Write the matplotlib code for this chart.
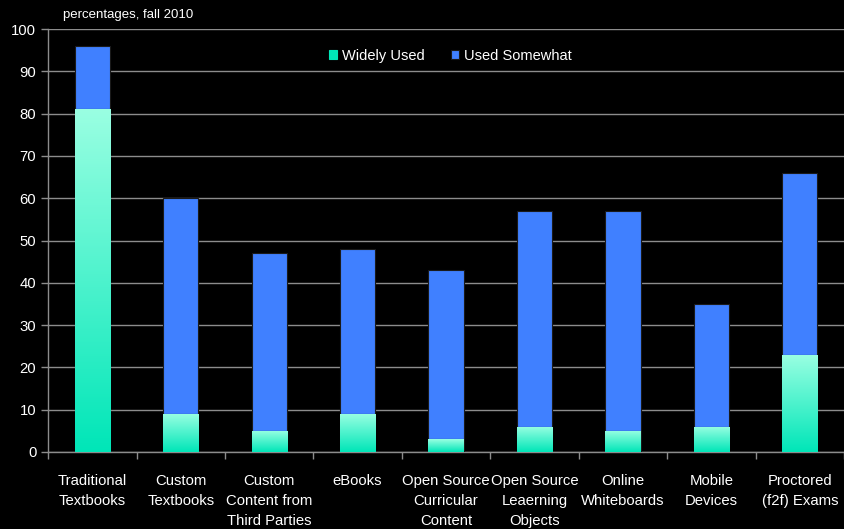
import numpy as np
import matplotlib.pyplot as plt
from matplotlib.colors import LinearSegmentedColormap

categories = [
    "Traditional\nTextbooks",
    "Custom\nTextbooks",
    "Custom\nContent from\nThird Parties",
    "eBooks",
    "Open Source\nCurricular\nContent",
    "Open Source\nLeaerning\nObjects",
    "Online\nWhiteboards",
    "Mobile\nDevices",
    "Proctored\n(f2f) Exams",
]
widely_used = [81, 9, 5, 9, 3, 6, 5, 6, 23]
used_somewhat = [15, 51, 42, 39, 40, 51, 52, 29, 43]

GREEN_TOP = "#9affe2"
GREEN_BOTTOM = "#00e6b8"
BLUE = "#4080ff"
GRID = "#8c8c8c"

plt.rcParams["font.family"] = ["Liberation Sans", "DejaVu Sans"]

fig = plt.figure(figsize=(8.44, 5.29), dpi=100, facecolor="black")
ax = fig.add_axes([0.057, 0.1456, 0.943, 0.7994])
ax.set_facecolor("black")

x = np.arange(len(categories))
width = 0.4

grad_cmap = LinearSegmentedColormap.from_list("g", [GREEN_BOTTOM, GREEN_TOP])
grad = np.linspace(0, 1, 256).reshape(-1, 1)

low = ax.bar(x, widely_used, width, color=GREEN_BOTTOM, edgecolor="#1a1a1a",
             linewidth=0.8, label="Widely Used", zorder=3)
ax.bar(x, used_somewhat, width, bottom=widely_used, color=BLUE,
       edgecolor="#1a1a1a", linewidth=0.8, label="Used Somewhat", zorder=3)

# vertical gradient on the lower segment
for rect in low:
    x0, w, h = rect.get_x(), rect.get_width(), rect.get_height()
    im = ax.imshow(grad, cmap=grad_cmap, aspect="auto", origin="lower",
                   extent=(x0, x0 + w, 0, h), zorder=3.5)
    im.set_clip_path(rect)

ax.set_xlim(-0.5, len(categories) - 0.5)
ax.set_ylim(0, 100)
ax.set_yticks(range(0, 101, 10))
ax.yaxis.grid(True, color=GRID, linewidth=1)
ax.set_axisbelow(True)

ax.set_xticks(x)
ax.set_xticklabels(categories, fontsize=10.7, color="white", linespacing=1.55)
ax.tick_params(axis="x", length=0, pad=16)
ax.set_xticks(np.arange(-0.5, len(categories), 1), minor=True)
ax.tick_params(axis="x", which="minor", length=5, color=GRID, width=1)
ax.tick_params(axis="y", labelsize=10.7, labelcolor="white", color=GRID,
               length=5, width=1)

for side in ["top", "right"]:
    ax.spines[side].set_visible(False)
for side in ["left", "bottom"]:
    ax.spines[side].set_color(GRID)
    ax.spines[side].set_linewidth(1)

leg = ax.legend(loc="upper center", bbox_to_anchor=(0.505, 0.985), ncol=2,
                frameon=False, fontsize=10.5, handlelength=0.6,
                handleheight=0.6, handletextpad=0.3, columnspacing=1.8)
for t in leg.get_texts():
    t.set_color("white")
leg.legend_handles[0].set_color(GREEN_BOTTOM)

fig.text(0.075, 0.972, "percentages, fall 2010", fontsize=9.5, color="white",
         ha="left", va="center")

fig.savefig("out.png", dpi=100, facecolor="black")
